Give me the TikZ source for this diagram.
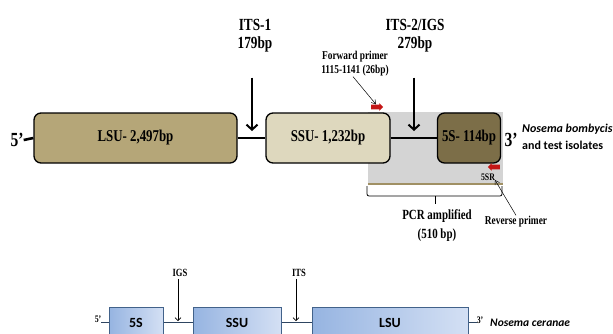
\documentclass[tikz,border=0pt]{standalone}
\usepackage{fontspec}
\setmainfont{Liberation Serif}[FakeStretch=0.78]
\newfontfamily\calib{Carlito}
\usetikzlibrary{arrows.meta,shapes.arrows}
\definecolor{GeneLSU}{RGB}{181,166,120}
\definecolor{GeneSSU}{RGB}{222,216,190}
\definecolor{GeneFiveS}{RGB}{124,110,72}
\definecolor{PcrGray}{RGB}{212,212,212}
\definecolor{PcrTan}{RGB}{160,144,100}
\definecolor{PrimerRed}{RGB}{196,22,22}
\definecolor{RnaBlueA}{RGB}{150,180,225}
\definecolor{RnaBlueB}{RGB}{212,224,244}
\definecolor{RnaEdge}{RGB}{66,98,138}

\begin{document}
\begin{tikzpicture}[x=1pt, y=-1pt,
        gene/.style={draw, line width=1.3pt, rounded corners=7pt, minimum height=50pt,
                    inner sep=0pt, font=\fontsize{16.5}{18}\selectfont\bfseries},
    rna/.style={draw=RnaEdge, line width=1pt, left color=RnaBlueA, right color=RnaBlueB,
                minimum height=31pt, inner sep=0pt, font=\calib\fontsize{14}{16}\selectfont\bfseries},
        dna/.style={line width=2.6pt},
    thindna/.style={draw=RnaEdge!70!black, line width=0.9pt},
        site/.style={-{Straight Barb[length=5pt,width=11pt]}, line width=2pt},
    smallsite/.style={-{Straight Barb[length=3pt,width=6pt]}, line width=0.6pt},
    pointer/.style={-{Straight Barb[length=4pt,width=5pt]}, line width=0.5pt},
        sitelab/.style={align=center, inner sep=0pt, font=\fontsize{17}{18}\selectfont\bfseries},
    primer/.style={single arrow, fill=PrimerRed, minimum height=12pt, minimum width=7.5pt,
                inner xsep=0pt, inner ysep=2.2pt, single arrow head extend=1.5pt},
    species/.style={align=left, inner sep=0pt, font=\calib\fontsize{12}{17}\selectfont\bfseries},
    brace/.style={line width=0.8pt, rounded corners=2pt}
]
    \useasboundingbox (0,0) rectangle (613,333);

    % Nosema bombycis
    \node[fill=PcrGray, minimum width=135pt, minimum height=72pt, inner sep=0pt] (pcr) at (435.5,148) {};
    \draw[PcrTan, line width=2.5pt] (pcr.south west) -- (pcr.south east);
    \node[gene, fill=GeneLSU, minimum width=203pt] (lsu) at (135.5,138) {LSU- 2,497bp};
    \node[gene, fill=GeneSSU, minimum width=124pt] (ssu) at (328,138) {SSU- 1,232bp};
    \node[gene, fill=GeneFiveS, minimum width=63pt] (fives) at (469,138) {5S- 114bp};
    \node[font=\fontsize{20}{20}\selectfont\bfseries, inner sep=0pt] (p5) at (17,140) {5'};
    \node[font=\fontsize{20}{20}\selectfont\bfseries, inner sep=0pt] (p3) at (511,140) {3'};
    \draw[dna] (p5.east) -- (lsu.west);
    \draw[dna] (lsu.east) -- (ssu.west);
    \draw[dna] (ssu.east) -- (fives.west);

    \node[sitelab] (its1) at (255,36) {ITS-1\\179bp};
    \node[sitelab] (its2) at (415,36) {ITS-2/IGS\\279bp};
    \coordinate (its1end) at (252,131);
    \coordinate (its2end) at (414,131);
    \draw[site, shorten <=25pt] (its1.south -| its1end) -- (its1end);
    \draw[site, shorten <=25pt] (its2.south -| its2end) -- (its2end);

    \node[font=\fontsize{12}{14}\selectfont\bfseries, align=center, inner sep=0pt] (fwdlab) at (355,64) {Forward primer\\1115-1141 (26bp)};
    \node[primer] (fwd) at (376,107) {};
    \draw[pointer] ([xshift=-2pt]fwdlab.south) -- (fwd.north);
    \node[primer, shape border rotate=180] (rev) at (495,167) {};
    \node[font=\fontsize{10}{12}\selectfont\bfseries, inner sep=0pt] (ssr) at (488,177) {5SR};
    \node[font=\fontsize{12}{14}\selectfont\bfseries, inner sep=1pt] (revlab) at (516,222) {Reverse primer};
    \coordinate (revend) at (495,180);
    \draw[pointer] (revlab.north) -- (revend);

    \draw[brace] (367,186) -- (367,196) -- (502,196) -- (502,186);
    \draw[brace] (435,196) -- (435,204);
    \node[font=\fontsize{14}{19}\selectfont\bfseries, align=center, inner sep=0pt] (pcrlab) at (437,226) {PCR amplified\\(510 bp)};

    \node[species, anchor=west] (nb) at (522,137) {\itshape Nosema bombycis\\and test isolates};

    % Nosema ceranae
    \node[rna, minimum width=54pt] (b5s) at (136,322.5) {5S};
    \node[rna, minimum width=88pt] (bssu) at (237,322.5) {SSU};
    \node[rna, minimum width=156pt] (blsu) at (390,322.5) {LSU};
    \node[font=\fontsize{10}{10}\selectfont\bfseries, inner sep=0pt] (b5p) at (98,319) {5'};
    \node[font=\fontsize{10}{10}\selectfont\bfseries, inner sep=0pt] (b3p) at (480,320) {3'};
    \draw[thindna] (b5p.east |- b5s.west) -- (b5s.west);
    \draw[thindna] (b5s.east) -- (bssu.west);
    \draw[thindna] (bssu.east) -- (blsu.west);
    \draw[thindna] (blsu.east) -- (b3p.west |- blsu.east);

    \node[font=\fontsize{11}{12}\selectfont\bfseries, inner sep=0pt] (igs) at (180,273) {IGS};
    \node[font=\fontsize{11}{12}\selectfont\bfseries, inner sep=0pt] (its) at (299,273) {ITS};
    \coordinate (igsend) at (178,321);
    \coordinate (itsend) at (296,321);
    \draw[smallsite, shorten <=2pt] (igs.south -| igsend) -- (igsend);
    \draw[smallsite, shorten <=2pt] (its.south -| itsend) -- (itsend);

    \node[species, anchor=west, font=\calib\fontsize{11.5}{14}\selectfont\bfseries] (nc) at (490,323) {\itshape Nosema ceranae};
\end{tikzpicture}
\end{document}
